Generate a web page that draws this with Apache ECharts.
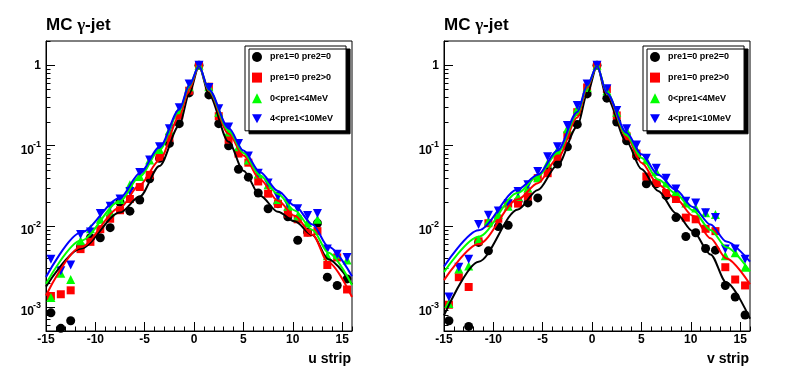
<!DOCTYPE html>
<html><head><meta charset="utf-8">
<script src="https://cdn.jsdelivr.net/npm/echarts@6/dist/echarts.min.js"></script>
<style>html,body{margin:0;padding:0;background:#fff}#c{width:796px;height:372px}</style>
</head><body><div id="c"></div>
<script>
// ---- data ----
const binCenters = [-14.5,-13.5,-12.5,-11.5,-10.5,-9.5,-8.5,-7.5,-6.5,-5.5,-4.5,-3.5,-2.5,-1.5,-0.5,0.5,1.5,2.5,3.5,4.5,5.5,6.5,7.5,8.5,9.5,10.5,11.5,12.5,13.5,14.5,15.5];
const seriesNames = ['pre1=0 pre2=0','pre1=0 pre2>0','0<pre1<4MeV','4<pre1<10MeV'];

const uBlack = [8.4e-4,5.4e-4,6.7e-4,5.6e-3,7.2e-3,7.2e-3,9.6e-3,0.0199,0.0154,0.0212,0.0388,0.0698,0.107,0.188,0.453,1.0,0.428,0.188,0.0997,0.0511,0.0407,0.0259,0.0165,0.0191,0.0131,6.7e-3,8.5e-3,0.0109,2.33e-3,1.84e-3,2.22e-3];
const uRed   = [1.36e-3,1.43e-3,1.6e-3,5.2e-3,6.4e-3,9.2e-3,0.0124,0.0158,0.0218,0.0307,0.0435,0.073,0.126,0.238,0.483,1.0,0.541,0.233,0.119,0.080,0.0616,0.036,0.0254,0.019,0.0144,0.0122,8.3e-3,8.7e-3,3.3e-3,4.1e-3,1.64e-3];
const uGreen = [1.3e-3,2.6e-3,2.18e-3,6.6e-3,9.3e-3,0.0122,0.015,0.0215,0.0328,0.0415,0.0665,0.09,0.155,0.279,0.54,1.0,0.54,0.261,0.148,0.097,0.0665,0.0447,0.0328,0.0215,0.0177,0.0134,0.0111,0.0122,4.3e-3,4.5e-3,3.8e-3];
const uBlue  = [3.9e-3,2.8e-3,3.3e-3,7.9e-3,8.5e-3,0.0144,0.0177,0.0218,0.0271,0.0464,0.0665,0.097,0.163,0.296,0.584,1.0,0.53,0.288,0.171,0.107,0.0745,0.0456,0.0344,0.0235,0.0191,0.0165,0.0136,0.0144,5.2e-3,4.5e-3,4.1e-3];

const vBlack = [6.7e-4,null,5.7e-4,6.3e-3,4.95e-3,9.9e-3,0.0103,0.0204,0.0195,0.0225,0.0501,0.0594,0.097,0.184,0.44,1.0,0.39,0.197,0.115,0.0745,0.0337,0.0337,0.024,0.0128,7.45e-3,8.3e-3,5.3e-3,5.05e-3,1.84e-3,1.32e-3,7.9e-4];
const vRed   = [1.06e-3,2.33e-3,1.76e-3,6.5e-3,0.0109,0.0124,0.0191,0.0191,0.0235,0.0396,0.0456,0.073,0.135,0.261,0.53,1.0,0.507,0.238,0.131,0.080,0.0415,0.0344,0.0259,0.0218,0.0128,0.0122,9.3e-3,8.7e-3,3.1e-3,2.18e-3,1.84e-3];
const vGreen = [1.1e-3,2.95e-3,3.2e-3,6.8e-3,0.0116,0.014,0.0177,0.0235,0.0299,0.040,0.0606,0.0883,0.163,0.288,0.53,1.0,0.483,0.261,0.155,0.0883,0.0665,0.0478,0.0344,0.0271,0.0195,0.0169,0.0147,0.014,4.3e-3,4.7e-3,3.1e-3];
const vBlue  = [1.32e-3,3.1e-3,3.9e-3,0.0105,0.0137,0.0155,0.019,0.0271,0.0328,0.0478,0.073,0.097,0.179,0.316,0.584,1.0,0.51,0.274,0.163,0.102,0.0698,0.0526,0.0396,0.029,0.0204,0.0195,0.0147,0.0128,5.2e-3,5.2e-3,3.9e-3];

// fitted curves, read at these x positions
const fitX = [-15,-11.5,-7.5,-5.5,-3.5,-1.5,-0.5,0.5,1.5,3.5,5,6.7,8.5,10.2,12,13.6,16];
const uBlackFit = [1.78e-3,5.25e-3,0.0148,0.0234,0.0562,0.178,0.437,0.977,0.437,0.112,0.049,0.024,0.0151,0.0115,7.76e-3,3.9e-3,1.9e-3];
const uRedFit   = [1.38e-3,5.5e-3,0.017,0.0327,0.066,0.229,0.501,0.977,0.479,0.141,0.0759,0.038,0.0207,0.0135,7.85e-3,3.55e-3,1.32e-3];
const uGreenFit = [1.93e-3,6.6e-3,0.0204,0.0417,0.0891,0.269,0.55,0.977,0.49,0.155,0.0813,0.0427,0.0251,0.0157,9.0e-3,4.7e-3,1.86e-3];
const uBlueFit  = [2.34e-3,8.3e-3,0.0224,0.0457,0.0955,0.282,0.562,0.977,0.501,0.166,0.087,0.0468,0.0275,0.018,0.0105,5.6e-3,2.4e-3];
const vBlackFit = [7.8e-4,3.63e-3,0.0162,0.0282,0.0575,0.174,0.437,0.977,0.398,0.112,0.0513,0.0275,0.0145,8.7e-3,4.47e-3,2.0e-3,7.1e-4];
const vRedFit   = [2.14e-3,6.0e-3,0.0216,0.0343,0.0692,0.224,0.525,0.977,0.447,0.129,0.0617,0.0331,0.0219,0.0135,7.1e-3,3.98e-3,1.9e-3];
const vGreenFit = [2.69e-3,7.4e-3,0.026,0.0417,0.0813,0.245,0.55,0.977,0.457,0.135,0.0708,0.038,0.0254,0.0158,9.0e-3,5.5e-3,2.75e-3];
const vBlueFit  = [3.16e-3,8.9e-3,0.0288,0.0437,0.087,0.263,0.562,0.977,0.45,0.145,0.0785,0.0437,0.0282,0.0174,0.0105,6.46e-3,3.63e-3];

const yMinorTicks = [6e-4,7e-4,8e-4,9e-4,2e-3,3e-3,4e-3,5e-3,6e-3,7e-3,8e-3,9e-3,0.02,0.03,0.04,0.05,0.06,0.07,0.08,0.09,0.2,0.3,0.4,0.5,0.6,0.7,0.8,0.9,2];
const xTitles = ['u strip','v strip'];

// ---- styling ----
const colors = ['#000000','#ff0000','#00ff00','#0000ff'];
const symbols = ['circle','rect','triangle','path://M0,0 L10,0 L5,9 Z'];
const symSizes = [9,8,9,9];
const FONT = 'Liberation Sans';

const panels = [
  {pts:[uBlack,uRed,uGreen,uBlue], fits:[uBlackFit,uRedFit,uGreenFit,uBlueFit]},
  {pts:[vBlack,vRed,vGreen,vBlue], fits:[vBlackFit,vRedFit,vGreenFit,vBlueFit]}
];
const gridLeft = [46, 444];

const chart = echarts.init(document.getElementById('c'), null, {renderer:'canvas'});

const grids = [], xAxes = [], yAxes = [], series = [], titles = [], legends = [];
panels.forEach((p, g) => {
  grids.push({left:gridLeft[g], top:41, width:306, height:290, show:true, borderColor:'#000', borderWidth:1, backgroundColor:'rgba(0,0,0,0)'});
  xAxes.push({type:'value', gridIndex:g, min:-15, max:16, interval:5, position:'bottom',
    axisLine:{show:true, onZero:false, lineStyle:{color:'#000', width:1}},
    axisTick:{show:true, inside:true, length:9, lineStyle:{color:'#000'}},
    axisLabel:{showMaxLabel:false, color:'#000', fontSize:12, fontWeight:'bold', fontFamily:FONT, margin:3},
    splitLine:{show:false}});
  xAxes.push({type:'value', gridIndex:g, min:-15, max:16, interval:1, position:'bottom',
    axisLine:{show:false, onZero:false}, axisTick:{show:true, inside:true, length:4.5, lineStyle:{color:'#000'}},
    axisLabel:{show:false}, splitLine:{show:false}});
  yAxes.push({type:'log', logBase:10, gridIndex:g, min:5e-4, max:2, position:'left',
    axisLine:{show:true, onZero:false, lineStyle:{color:'#000'}},
    axisTick:{show:true, inside:true, length:9, lineStyle:{color:'#000'}},
    axisLabel:{showMinLabel:false, showMaxLabel:false, margin:5, color:'#000', align:'right',
      formatter: function(v){
        const e = Math.log10(v), r = Math.round(e);
        if (Math.abs(e - r) > 1e-6) return '';
        if (r === 0) return '{o|1}';
        return '{s|' + r + '}\n{b|10}{sp|\u00a0}';
      },
      rich:{
        o:{fontSize:12, fontWeight:'bold', fontFamily:FONT, color:'#000', align:'right'},
        s:{fontSize:9, fontWeight:'bold', fontFamily:FONT, color:'#000', lineHeight:9, align:'right'},
        b:{fontSize:12, fontWeight:'bold', fontFamily:FONT, color:'#000', lineHeight:3, align:'right'},
        sp:{fontSize:9, lineHeight:3, width:7, align:'right'}
      }},
    splitLine:{show:false}});
  // minor log ticks (2..9 per decade)
  series.push({type:'custom', xAxisIndex:g*2, yAxisIndex:g, silent:true, clip:false,
    data: yMinorTicks.map(v => [-15, v]), encode:{x:0, y:1},
    renderItem: function(params, api){
      const c = api.coord([api.value(0), api.value(1)]);
      const y = Math.round(c[1]) + 0.5;
      return {type:'line', shape:{x1:c[0], y1:y, x2:c[0]+4.5, y2:y}, style:{stroke:'#000', lineWidth:1}};
    }});
  for (let k = 0; k < 4; k++) {
    series.push({type:'scatter', name:seriesNames[k], xAxisIndex:g*2, yAxisIndex:g,
      data: binCenters.map((x,i) => [x, p.pts[k][i]]).filter(d => d[1] != null),
      symbol:symbols[k], symbolSize:symSizes[k], itemStyle:{color:colors[k], opacity:1}, silent:true});
    series.push({type:'line', name:'fit'+g+k, xAxisIndex:g*2, yAxisIndex:g,
      data: fitX.map((x,i) => [x, p.fits[k][i]]),
      smooth:0.3, smoothMonotone:'x', showSymbol:false, symbol:'none',
      lineStyle:{color:colors[k], width:2}, silent:true});
  }
  titles.push({text:'{a|MC }{g|γ}{a|-jet}', left:gridLeft[g], top:17, padding:0,
    textStyle:{rich:{a:{fontSize:17, fontWeight:'bold', fontFamily:FONT, color:'#000'},
                     g:{fontSize:17, fontFamily:'Liberation Serif', color:'#000'}}}});
  titles.push({text:xTitles[g], right: 796 - (gridLeft[g] + 305), top:352, padding:0,
    textStyle:{fontSize:14, fontWeight:'bold', fontFamily:FONT, color:'#000'}});
  legends.push({data:seriesNames, orient:'vertical', left:gridLeft[g] + 199, top:46,
    padding:[6,13,7,7], itemWidth:10, itemHeight:10, itemGap:10.6, selectedMode:false,
    backgroundColor:'#fff', borderColor:'#000', borderWidth:1, borderRadius:0,
    shadowColor:'#000', shadowBlur:0, shadowOffsetX:4, shadowOffsetY:3,
    textStyle:{fontSize:9, fontWeight:'bold', fontFamily:FONT, color:'#000', lineHeight:10, padding:[0,0,0,3]}});
});

chart.setOption({animation:false, backgroundColor:'#fff', title:titles, legend:legends,
  grid:grids, xAxis:xAxes, yAxis:yAxes, series:series});
</script></body></html>
